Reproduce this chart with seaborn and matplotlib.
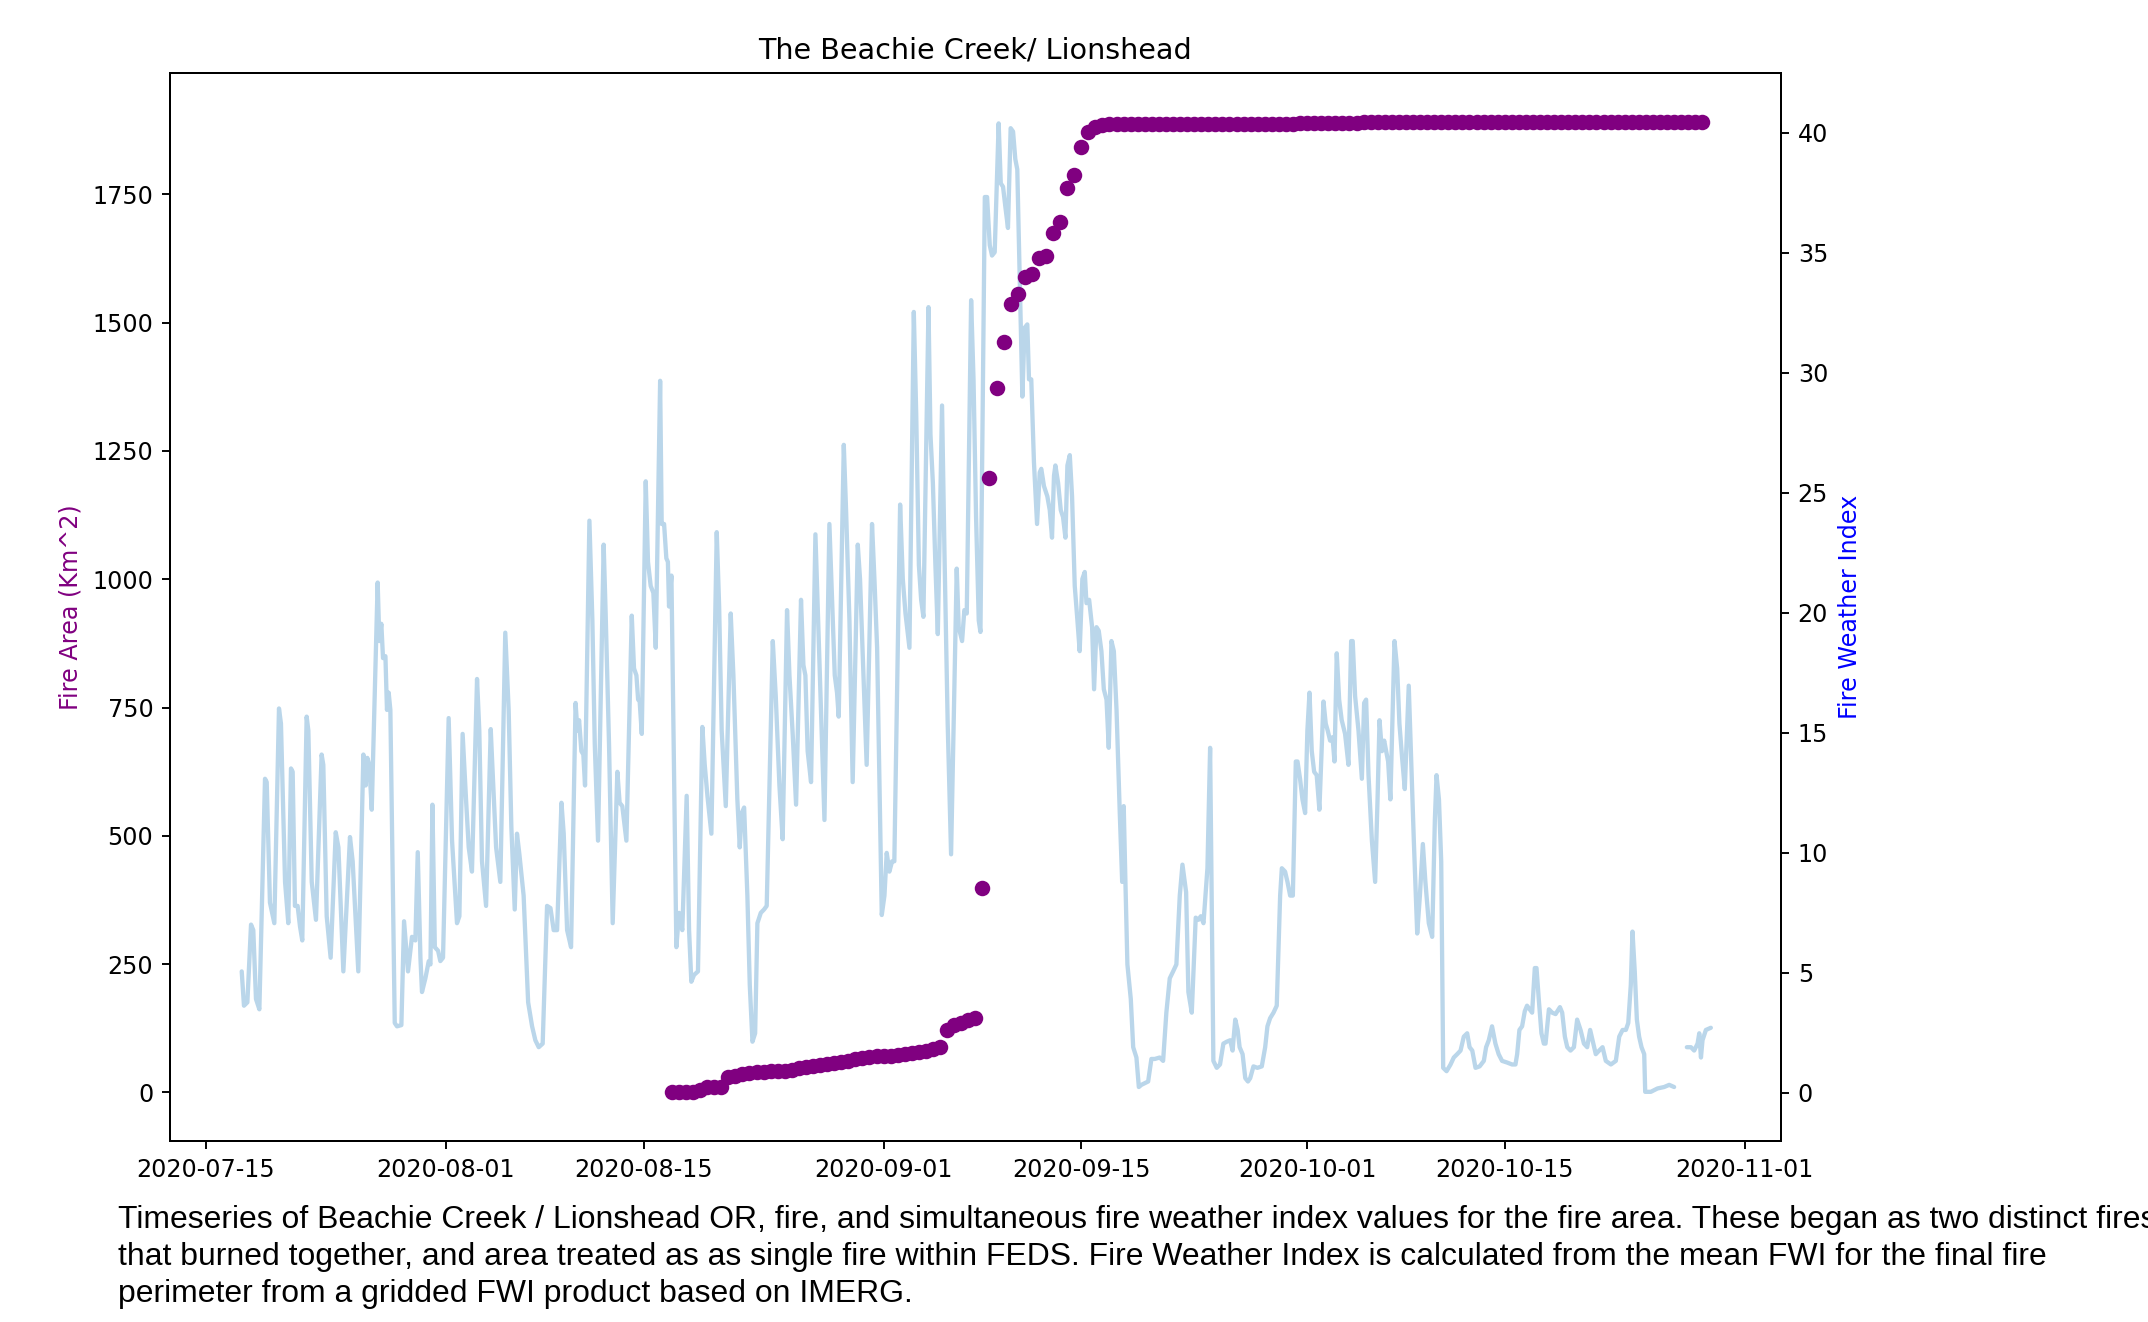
import numpy as np
import pandas as pd
import matplotlib
matplotlib.use("Agg")
import matplotlib.pyplot as plt
import matplotlib.dates as mdates
import seaborn as sns

# ---------------- data ----------------
fwi_start = "2020-07-15"
# fire weather index samples: days since 2020-07-15, value
fwi_day = [
    2.53, 2.69, 2.93, 3.19, 3.35, 3.54, 3.78, 4.18, 4.30, 4.53, 4.84, 5.17, 5.31, 5.60, 5.83,
    6.02, 6.14, 6.30, 6.49, 6.66, 6.82, 7.13, 7.25, 7.49, 7.79, 8.19, 8.31, 8.55, 8.83, 9.19,
    9.38, 9.73, 10.20, 10.39, 10.79, 11.15, 11.31, 11.43, 11.57, 11.74, 12.16, 12.28, 12.42,
    12.54, 12.71, 12.82, 12.94, 13.06, 13.37, 13.53, 13.84, 14.03, 14.31, 14.59, 14.83, 15.00,
    15.19, 15.30, 15.54, 15.78, 15.90, 16.04, 16.21, 16.44, 16.60, 16.79, 17.19, 17.43, 17.78,
    17.95, 18.18, 18.42, 18.61, 18.84, 19.20, 19.36, 19.55, 19.84, 20.17, 20.26, 20.55, 20.85,
    21.20, 21.44, 21.63, 21.87, 22.03, 22.20, 22.50, 22.82, 23.10, 23.33, 23.57, 23.85, 24.16,
    24.40, 24.63, 24.87, 25.18, 25.34, 25.58, 25.86, 26.18, 26.31, 26.43, 26.59, 26.73, 26.85,
    27.16, 27.37, 27.54, 27.77, 28.17, 28.31, 28.55, 28.81, 29.14, 29.30, 29.49, 29.78, 30.16,
    30.32, 30.49, 30.61, 30.72, 30.87, 31.15, 31.31, 31.50, 31.69, 31.86, 32.17, 32.28, 32.45,
    32.61, 32.72, 32.80, 32.97, 33.32, 33.51, 33.74, 34.05, 34.22, 34.38, 34.57, 34.85, 35.16,
    35.33, 35.52, 35.80, 36.18, 36.35, 36.53, 36.82, 37.17, 37.36, 37.64, 37.81, 37.95, 38.12,
    38.35, 38.52, 38.71, 38.90, 39.06, 39.30, 39.53, 39.72, 40.15, 40.36, 40.62, 40.85, 41.16,
    41.33, 41.56, 41.80, 42.15, 42.32, 42.46, 42.62, 42.86, 43.17, 43.33, 43.52, 43.81, 44.16,
    44.35, 44.54, 44.70, 44.82, 45.18, 45.34, 45.58, 45.81, 46.17, 46.33, 46.52, 46.80, 47.18,
    47.35, 47.54, 47.87, 48.06, 48.22, 48.41, 48.60, 48.76, 49.17, 49.36, 49.55, 49.83, 50.14,
    50.31, 50.50, 50.66, 50.82, 51.18, 51.32, 51.49, 51.67, 51.84, 52.14, 52.31, 52.54, 52.78,
    53.18, 53.32, 53.56, 53.72, 53.89, 54.20, 54.37, 54.55, 54.74, 54.86, 55.17, 55.33, 55.52,
    55.68, 55.87, 56.15, 56.30, 56.46, 56.63, 56.81, 57.00, 57.17, 57.33, 57.47, 57.64, 57.83,
    57.99, 58.18, 58.30, 58.46, 58.65, 58.87, 59.06, 59.17, 59.36, 59.60, 59.77, 59.93, 60.07,
    60.17, 60.36, 60.55, 60.71, 60.88, 61.02, 61.19, 61.35, 61.54, 61.73, 61.89, 62.08, 62.25,
    62.37, 62.56, 62.77, 62.91, 63.08, 63.24, 63.43, 63.60, 63.79, 63.95, 64.14, 64.31, 64.50,
    64.73, 64.90, 65.01, 65.13, 65.27, 65.51, 65.68, 65.91, 66.08, 66.26, 66.74, 66.97, 67.21,
    67.56, 67.80, 68.03, 68.27, 68.51, 68.74, 68.98, 69.17, 69.43, 69.59, 69.83, 70.11, 70.30,
    70.47, 70.66, 70.94, 71.13, 71.36, 71.60, 71.83, 72.07, 72.31, 72.55, 72.72, 72.91, 73.08,
    73.22, 73.43, 73.62, 73.81, 73.97, 74.20, 74.48, 74.79, 75.03, 75.19, 75.38, 75.62, 75.85,
    76.09, 76.21, 76.44, 76.61, 76.80, 76.99, 77.20, 77.32, 77.50, 77.67, 77.86, 78.02, 78.17,
    78.33, 78.50, 78.68, 78.87, 79.16, 79.32, 79.46, 79.63, 79.80, 79.94, 80.10, 80.27, 80.45,
    80.69, 80.93, 81.12, 81.23, 81.40, 81.64, 81.88, 82.04, 82.18, 82.35, 82.59, 82.82, 82.99,
    83.13, 83.30, 83.46, 83.74, 83.90, 84.19, 84.38, 84.54, 84.73, 84.92, 85.20, 85.37, 85.56,
    85.80, 85.99, 86.20, 86.38, 86.62, 86.86, 87.05, 87.17, 87.34, 87.50, 87.64, 87.88, 88.16,
    88.39, 88.63, 88.87, 89.10, 89.34, 89.51, 89.70, 89.93, 90.22, 90.52, 90.68, 90.87, 91.10,
    91.34, 91.57, 91.81, 92.17, 92.52, 92.76, 92.88, 93.04, 93.23, 93.42, 93.58, 93.77, 93.94,
    94.13, 94.25, 94.41, 94.60, 94.77, 94.89, 95.13, 95.36, 95.60, 95.91, 96.07, 96.26, 96.43,
    96.66, 96.90, 97.13, 97.37, 97.61, 97.84, 98.05, 98.22, 98.45, 98.69, 98.93, 99.16, 99.52,
    99.87, 100.11, 100.35, 100.58, 100.75, 100.93, 101.05, 101.21, 101.36, 101.52, 101.69,
    101.88, 101.95, 102.35, 102.82, 103.29, 103.65, 104.00,
    104.90, 105.19, 105.42, 105.66, 105.78, 105.90, 106.01, 106.25, 106.60,
]
fwi_value = [
    5.05, 3.62, 3.76, 7.00, 6.77, 3.90, 3.47, 13.08, 12.94, 7.92, 7.06, 16.01, 15.38, 8.78, 7.06,
    13.51, 13.37, 7.78, 7.78, 6.92, 6.34, 15.67, 15.09, 8.78, 7.20, 14.09, 13.66, 7.35, 5.62, 10.85,
    10.22, 5.05, 10.65, 9.64, 5.05, 14.09, 12.80, 13.95, 13.66, 11.79, 21.26, 18.82, 19.54,
    18.11, 18.19, 15.95, 16.67, 15.95, 2.90, 2.76, 2.81, 7.14, 5.05, 6.49, 6.34, 10.02,
    5.62, 4.19, 4.76, 5.48, 5.34, 12.00, 6.06, 5.91, 5.48, 5.62, 15.61, 10.50, 7.06,
    7.35, 14.95, 12.22, 10.22, 9.21, 17.24, 15.09, 9.64, 7.78, 15.15, 13.95, 10.22, 8.78,
    19.17, 15.95, 11.08, 7.63, 10.79, 9.93, 8.21, 3.76, 2.76, 2.18, 1.89, 2.04, 7.78,
    7.69, 6.77, 6.77, 12.08, 10.79, 6.77, 6.06, 16.24, 15.09, 15.52, 14.23, 14.09, 12.80,
    23.84, 19.68, 14.52, 10.50, 22.84, 19.97, 14.52, 7.06, 13.37, 12.08, 11.94, 10.50, 19.88,
    17.68, 17.39, 16.38, 16.30, 14.95, 25.48, 22.12, 21.12, 20.83, 18.54, 29.67, 23.70, 23.70,
    22.27, 22.12, 20.26, 21.55, 6.06, 7.49, 6.77, 12.37, 6.77, 4.62, 4.90, 5.05, 15.24,
    13.66, 12.37, 10.79, 23.36, 20.26, 15.09, 11.94, 19.97, 17.39, 12.22, 10.22, 11.65, 11.88,
    8.21, 4.48, 2.12, 2.47, 7.06, 7.49, 7.63, 7.78, 18.82, 16.53, 12.80, 10.56, 20.11,
    17.39, 14.95, 12.00, 20.54, 17.82, 17.39, 14.23, 12.94, 23.27, 20.26, 16.81, 11.36, 23.70,
    20.54, 17.39, 16.67, 15.67, 27.00, 24.30, 19.68, 12.94, 22.84, 21.41, 18.25, 13.66, 23.70,
    21.41, 18.54, 7.40, 8.21, 9.99, 9.21, 9.64, 9.64, 24.51, 21.41, 19.97, 18.54, 32.54,
    28.29, 21.98, 20.54, 19.83, 32.74, 27.43, 25.42, 21.98, 19.11, 28.64, 22.55, 15.38, 9.93,
    21.84, 19.40, 18.82, 20.11, 19.97, 33.03, 29.73, 23.99, 19.68, 19.20, 37.33, 37.33, 35.32,
    34.89, 35.03, 40.40, 37.90, 37.76, 36.90, 36.04, 40.20, 40.06, 38.91, 38.48, 34.03, 29.01,
    31.88, 32.02, 29.73, 29.73, 26.28, 23.70, 25.85, 26.00, 25.28, 24.85, 24.28, 23.13, 25.71,
    26.14, 25.42, 24.28, 23.99, 23.13, 26.14, 26.57, 24.85, 21.12, 19.68, 18.40, 21.41, 21.70,
    20.40, 20.54, 19.40, 16.81, 19.40, 19.25, 18.40, 16.81, 16.38, 14.37, 18.82, 18.40, 15.95,
    11.65, 8.78, 11.94, 8.78, 5.34, 3.90, 1.89, 1.46, 0.23, 0.32, 0.46, 1.40, 1.40,
    1.46, 1.32, 3.33, 4.76, 5.05, 5.34, 8.21, 9.50, 8.35, 4.19, 3.33, 7.29, 7.20,
    7.35, 7.06, 9.35, 14.37, 1.32, 1.03, 1.17, 2.04, 2.12, 2.18, 1.75, 3.04, 2.61,
    1.89, 1.60, 0.60, 0.46, 0.60, 1.09, 1.03, 1.09, 1.89, 2.76, 3.10, 3.33, 3.62,
    8.21, 9.35, 9.21, 8.78, 8.21, 8.21, 13.80, 13.80, 13.08, 12.22, 11.65, 15.09, 16.67,
    14.23, 13.37, 13.23, 11.79, 16.30, 15.38, 15.09, 14.67, 14.81, 13.80, 18.31, 16.38, 15.53,
    14.95, 13.66, 18.82, 18.82, 16.53, 15.09, 13.08, 16.24, 16.38, 13.23, 10.50, 8.78, 12.22,
    15.52, 14.23, 14.67, 13.80, 12.22, 18.82, 17.68, 15.38, 13.95, 12.65, 16.96, 13.95, 10.50,
    6.63, 8.21, 10.36, 8.78, 7.06, 6.49, 11.36, 13.23, 12.22, 9.64, 1.03, 0.89, 1.17,
    1.46, 1.60, 1.75, 2.33, 2.47, 1.89, 1.75, 1.03, 1.09, 1.32, 1.89, 2.18, 2.76,
    2.04, 1.60, 1.32, 1.25, 1.17, 1.17, 1.60, 2.61, 2.76, 3.39, 3.62, 3.47, 3.33,
    5.19, 5.19, 3.90, 2.47, 2.04, 2.04, 3.47, 3.33, 3.27, 3.56, 3.33, 2.33, 1.89,
    1.75, 1.89, 3.04, 2.61, 2.04, 1.89, 2.61, 2.18, 1.60, 1.75, 1.89, 1.32, 1.17,
    1.32, 2.33, 2.61, 2.61, 2.90, 4.48, 6.71, 5.05, 3.04, 2.33, 1.89,
    1.60, 0.03, 0.03, 0.17, 0.23, 0.32, 0.23,
    1.89, 1.89, 1.75, 2.04, 2.47, 1.46, 2.18, 2.61, 2.70,
]
fwi_gap_after_day = 104.5   # missing FWI data between the two segments

# fire area, twice daily from 2020-08-17 00:00 to 2020-10-29 12:00
area_start = "2020-08-17 00:00"
fire_area = [
    0, 0, 0, 1, 5, 10, 10, 10, 30, 33, 36, 38, 39, 40, 41, 41, 42, 44, 47, 50, 52, 53,
    55, 57, 60, 62, 65, 67, 70, 71, 72, 72, 73, 74, 76, 78, 81, 84, 88, 122, 131, 135,
    141, 146, 399, 1197, 1373, 1463, 1536, 1556, 1590, 1594, 1626, 1630, 1674, 1697,
    1762, 1788, 1843, 1872, 1881, 1885, 1887, 1888, 1888, 1888, 1888, 1888, 1888, 1888,
    1888, 1888, 1888, 1888, 1888, 1888, 1888, 1888, 1888, 1888, 1888, 1888, 1888, 1888,
    1888, 1888, 1888, 1888, 1888, 1889, 1889, 1889, 1889, 1890, 1890, 1890, 1890, 1890,
    1891, 1891, 1891, 1891, 1891, 1891, 1891, 1891, 1891, 1891, 1891, 1891, 1892, 1892,
    1892, 1892, 1892, 1892, 1892, 1892, 1892, 1892, 1892, 1892, 1892, 1892, 1892, 1892,
    1892, 1892, 1892, 1892, 1892, 1892, 1892, 1892, 1892, 1892, 1892, 1892, 1892, 1892,
    1892, 1892, 1892, 1892, 1892, 1892, 1892,
]

title = "The Beachie Creek/ Lionshead"
left_label = "Fire Area (Km^2)"
right_label = "Fire Weather Index"
caption = ("Timeseries of Beachie Creek / Lionshead OR, fire, and simultaneous fire weather index "
           "values for the fire area. These began as two distinct fires\n"
           "that burned together, and area treated as as single fire within FEDS. Fire Weather "
           "Index is calculated from the mean FWI for the final fire\n"
           "perimeter from a gridded FWI product based on IMERG.")

# ---------------- tables ----------------
base = pd.Timestamp(fwi_start)
fwi_df = pd.DataFrame({
    "time": base + pd.to_timedelta(fwi_day, unit="D"),
    "fwi": fwi_value,
    "segment": (np.array(fwi_day) > fwi_gap_after_day).astype(int),
})
area_df = pd.DataFrame({
    "time": pd.date_range(area_start, periods=len(fire_area), freq="12h"),
    "area": fire_area,
})

# ---------------- figure ----------------
sns.set_style("ticks")
plt.rcParams["font.family"] = ["DejaVu Sans"]
plt.rcParams["axes.edgecolor"] = "black"
plt.rcParams["xtick.color"] = "black"
plt.rcParams["ytick.color"] = "black"
plt.rcParams["text.color"] = "black"
plt.rcParams["axes.labelcolor"] = "black"

DPI = 172
fig = plt.figure(figsize=(2148 / DPI, 1322 / DPI), dpi=DPI)
ax = fig.add_axes([170 / 2148, 1 - 1141 / 1322, (1781 - 170) / 2148, (1141 - 73) / 1322])
ax2 = ax.twinx()

sns.lineplot(data=fwi_df, x="time", y="fwi", units="segment", estimator=None,
             color="#bad6ea", linewidth=1.8, ax=ax2, legend=False)
sns.scatterplot(data=area_df, x="time", y="area", color="purple", s=42,
                linewidth=0, ax=ax, legend=False)

ax.set_zorder(ax2.get_zorder() + 1)
ax.patch.set_visible(False)

ax.set_xlim(base - pd.Timedelta(days=2.55), base + pd.Timedelta(days=111.57))
ax.set_ylim(-94.6, 1986.6)
ax2.set_ylim(-2.02, 42.5)
ax.set_yticks([0, 250, 500, 750, 1000, 1250, 1500, 1750])
ax2.set_yticks([0, 5, 10, 15, 20, 25, 30, 35, 40])

ax.xaxis.set_major_locator(mdates.DayLocator(bymonthday=[1, 15]))
ax.xaxis.set_major_formatter(mdates.DateFormatter("%Y-%m-%d"))

for a in (ax, ax2):
    a.tick_params(labelsize=10, length=3.5, width=0.8, colors="black")
    for sp in a.spines.values():
        sp.set_visible(True)
        sp.set_linewidth(0.8)
        sp.set_color("black")

ax.set_xlabel("")
ax.set_ylabel(left_label, color="purple", fontsize=10)
ax2.set_ylabel(right_label, color="blue", fontsize=10)
ax.set_title(title, fontsize=12, color="black")

# caption runs past the right edge of the figure, as in the reference
fig.text(118 / 2148, 1 - 1205 / 1322, caption, ha="left", va="top", color="black",
         fontsize=13.35, family=["Liberation Sans", "DejaVu Sans"], linespacing=1.3)

fig.savefig("out.png", dpi=DPI)
